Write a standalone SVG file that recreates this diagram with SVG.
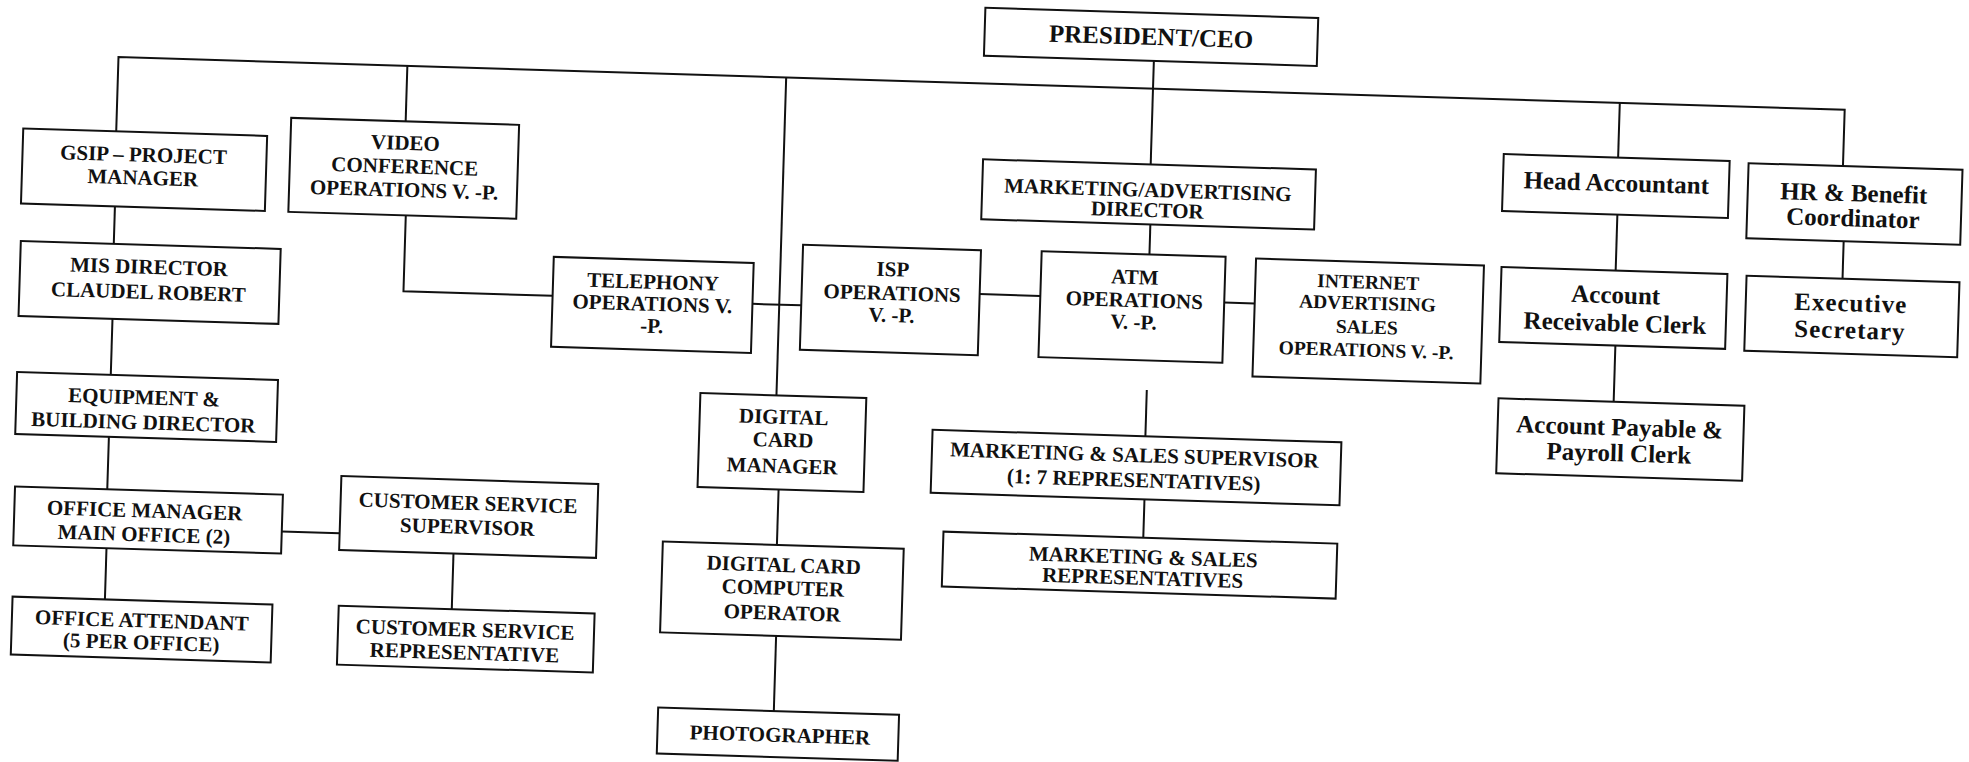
<svg xmlns="http://www.w3.org/2000/svg" width="1969" height="762" viewBox="0 0 1969 762">
<style>
.b{fill:#fff;stroke:#111;stroke-width:2}
.t{font-family:"Liberation Serif","Times New Roman",serif;font-weight:bold;font-size:21px;text-anchor:middle;fill:#111}
.m{font-size:25px}
.s{font-size:19.5px}
.c{stroke:#111;stroke-width:2;fill:none}
</style>
<rect width="1969" height="762" fill="#fff"/>
<g transform="rotate(1.75 985 381)">
<g id="connectors" class="c">
<path d="M109 158V83.6H1836V140"/>
<path d="M398 83.6V139.2"/>
<path d="M777 83.6V401.7"/>
<path d="M1144 56V159.5"/>
<path d="M1611 83.6V138.3"/>
<path d="M110 233V270.5"/>
<path d="M111 345.5V401.6"/>
<path d="M111 463.6V516"/>
<path d="M112 575V626.2"/>
<path d="M286.7 553H344.6"/>
<path d="M459 569.7V625.3"/>
<path d="M401 233.2V309H550.2"/>
<path d="M750.2 311H799"/>
<path d="M977 294.3H1037.7"/>
<path d="M1221.7 295.3H1252.2"/>
<path d="M1145.5 219.5V249.5"/>
<path d="M1147 385V431.4"/>
<path d="M1148 494.4V532.8"/>
<path d="M1612 195.3V251.3"/>
<path d="M1614 326.3V382.6"/>
<path d="M1839 215V252.6"/>
<path d="M782 495.7V551.2"/>
<path d="M784 642.2V717.3"/>
</g>
<g id="ceo"><rect class="b" x="974" y="8" width="333" height="48"/><text class="t m" x="1140.5" y="40">PRESIDENT/CEO</text></g>
<g id="gsip"><rect class="b" x="16" y="158" width="244" height="75"/><text class="t" x="137" y="187.5">GSIP – PROJECT</text><text class="t" x="137" y="210.5">MANAGER</text></g>
<g id="mis"><rect class="b" x="17" y="270.5" width="260" height="75"/><text class="t" x="146" y="299.5">MIS DIRECTOR</text><text class="t" x="146" y="324.5">CLAUDEL ROBERT</text></g>
<g id="equipment"><rect class="b" x="17.3" y="401.6" width="261" height="62"/><text class="t" x="145" y="430">EQUIPMENT &amp;</text><text class="t" x="145" y="455">BUILDING DIRECTOR</text></g>
<g id="office-manager"><rect class="b" x="18.7" y="516" width="268" height="59"/><text class="t" x="149" y="543">OFFICE MANAGER</text><text class="t" x="149" y="567">MAIN OFFICE (2)</text></g>
<g id="office-attendant"><rect class="b" x="19.6" y="626.2" width="260" height="58"/><text class="t" x="149.6" y="653">OFFICE ATTENDANT</text><text class="t" x="149.6" y="675">(5 PER OFFICE)</text></g>
<g id="cs-supervisor"><rect class="b" x="344.6" y="495.7" width="257" height="74"/><text class="t" x="472" y="525.7">CUSTOMER SERVICE</text><text class="t" x="472" y="549.7">SUPERVISOR</text></g>
<g id="cs-rep"><rect class="b" x="345.9" y="625.3" width="256" height="59"/><text class="t" x="473" y="652.3">CUSTOMER SERVICE</text><text class="t" x="473" y="675.3">REPRESENTATIVE</text></g>
<g id="video"><rect class="b" x="283.5" y="139.2" width="228" height="94"/><text class="t" x="398.5" y="167.7">VIDEO</text><text class="t" x="398.5" y="191.2">CONFERENCE</text><text class="t" x="398.5" y="214.7">OPERATIONS V. -P.</text></g>
<g id="telephony"><rect class="b" x="550.2" y="270.1" width="200" height="90"/><text class="t" x="650.2" y="299">TELEPHONY</text><text class="t" x="650.2" y="321">OPERATIONS V.</text><text class="t" x="650.2" y="343">-P.</text></g>
<g id="isp"><rect class="b" x="799" y="250.4" width="178" height="105"/><text class="t" x="889.5" y="279">ISP</text><text class="t" x="889.5" y="303">OPERATIONS</text><text class="t" x="889.5" y="325">V. -P.</text></g>
<g id="atm"><rect class="b" x="1037.7" y="249.5" width="184" height="106"/><text class="t" x="1131.7" y="279.5">ATM</text><text class="t" x="1131.7" y="302.5">OPERATIONS</text><text class="t" x="1131.7" y="324.5">V. -P.</text></g>
<g id="internet"><rect class="b" x="1252.2" y="250.3" width="228" height="118"/><text class="t s" x="1365" y="277">INTERNET</text><text class="t s" x="1365" y="298">ADVERTISING</text><text class="t s" x="1365" y="322">SALES</text><text class="t s" x="1365" y="345">OPERATIONS V. -P.</text></g>
<g id="marketing-director"><rect class="b" x="976.3" y="159.5" width="333" height="60"/><text class="t" x="1142" y="192">MARKETING/ADVERTISING</text><text class="t" x="1142" y="212">DIRECTOR</text></g>
<g id="head-accountant"><rect class="b" x="1496.6" y="138.3" width="226" height="57"/><text class="t m" x="1610" y="172">Head Accountant</text></g>
<g id="hr"><rect class="b" x="1741.6" y="140" width="214" height="75"/><text class="t m" x="1847.6" y="175">HR &amp; Benefit</text><text class="t m" x="1847.6" y="200">Coordinator</text></g>
<g id="receivable"><rect class="b" x="1497.8" y="251.3" width="226" height="75"/><text class="t m" x="1612.8" y="284">Account</text><text class="t m" x="1612.8" y="312">Receivable Clerk</text></g>
<g id="payable"><rect class="b" x="1498.8" y="382.6" width="246" height="75"/><text class="t m" x="1620.8" y="416">Account Payable &amp;</text><text class="t m" x="1620.8" y="442">Payroll Clerk</text></g>
<g id="executive"><rect class="b" x="1743" y="252.6" width="213" height="75"/><text class="t m" x="1848" y="285" letter-spacing="1">Executive</text><text class="t m" x="1848" y="312" letter-spacing="1">Secretary</text></g>
<g id="dc-manager"><rect class="b" x="700.9" y="401.7" width="166" height="94"/><text class="t" x="784.9" y="430">DIGITAL</text><text class="t" x="784.9" y="453">CARD</text><text class="t" x="784.9" y="479">MANAGER</text></g>
<g id="dc-operator"><rect class="b" x="667.9" y="551.2" width="241" height="91"/><text class="t" x="789.4" y="578">DIGITAL CARD</text><text class="t" x="789.4" y="601">COMPUTER</text><text class="t" x="789.4" y="626">OPERATOR</text></g>
<g id="photographer"><rect class="b" x="668.3" y="717.3" width="241" height="46"/><text class="t" x="790.8" y="748">PHOTOGRAPHER</text></g>
<g id="ms-supervisor"><rect class="b" x="934.1" y="431.4" width="409" height="63"/><text class="t" x="1136.6" y="457.4">MARKETING &amp; SALES SUPERVISOR</text><text class="t" x="1136.6" y="482.4">(1: 7 REPRESENTATIVES)</text></g>
<g id="ms-reps"><rect class="b" x="948.1" y="532.8" width="394" height="55"/><text class="t" x="1148.6" y="559">MARKETING &amp; SALES</text><text class="t" x="1148.6" y="580">REPRESENTATIVES</text></g>
</g>
</svg>
